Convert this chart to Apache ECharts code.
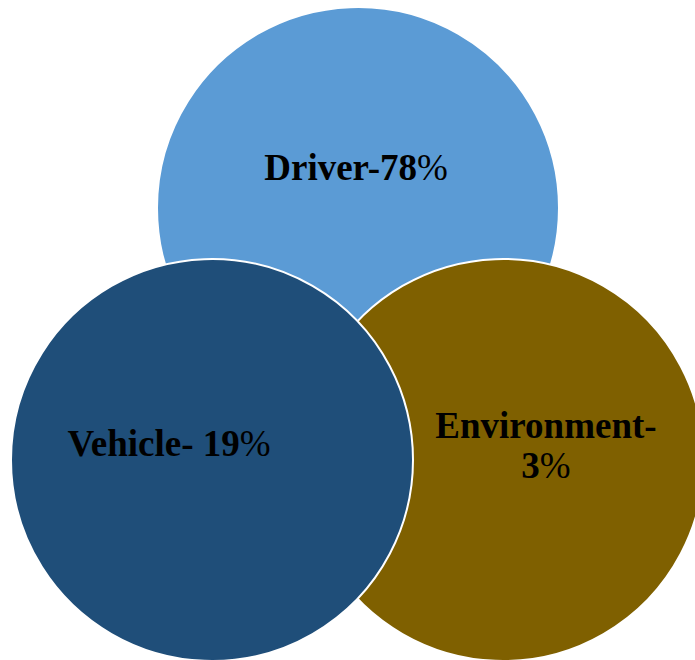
<!DOCTYPE html>
<html>
<head>
<meta charset="utf-8">
<script src="https://cdn.jsdelivr.net/npm/echarts@6/dist/echarts.min.js"></script>
<style>
  html, body { margin: 0; padding: 0; background: #fff; }
  #chart { width: 695px; height: 660px; }
</style>
</head>
<body>
<div id="chart"></div>
<script>
// Causes of road accidents (share of cases)
const categories = ['Driver', 'Environment', 'Vehicle'];
const shares = [78, 3, 19];
const separators = ['-', '-\n', '- '];

// Circle layout in chart units (one unit = circle radius)
const centers = [[1.79, 2.26], [2.515, 1.0], [1.06, 1.0]];
const radius = 1.005;
const labelOffsets = [[-0.01, 0.205], [0.215, 0.075], [-0.215, 0.085]];
const colors = ['#5B9BD5', '#7F6000', '#1F4E79'];

const chart = echarts.init(document.getElementById('chart'), null, { renderer: 'svg' });

const data = categories.map((c, i) => ({
  name: c,
  value: [centers[i][0], centers[i][1], shares[i]]
}));

chart.setOption({
  animation: false,
  grid: { left: 0, right: 0, top: 0, bottom: 0 },
  xAxis: { type: 'value', min: 0, max: 3.475, show: false },
  yAxis: { type: 'value', min: 0, max: 3.3, show: false },
  series: [{
    type: 'custom',
    coordinateSystem: 'cartesian2d',
    data: data,
    renderItem: function (params, api) {
      const i = params.dataIndex;
      const cx = api.value(0), cy = api.value(1), v = api.value(2);
      const c = api.coord([cx, cy]);
      const r = api.size([radius, 0])[0];
      const lp = api.coord([cx + labelOffsets[i][0], cy + labelOffsets[i][1]]);
      const sep = separators[i];
      const lines = sep.indexOf('\n') >= 0;
      const text = lines
        ? '{b|' + categories[i] + sep.replace('\n', '') + '}\n{b|' + v + '}{r|%}'
        : '{b|' + categories[i] + sep + v + '}{r|%}';
      return {
        type: 'group',
        children: [{
          type: 'circle',
          shape: { cx: c[0], cy: c[1], r: r },
          style: { fill: colors[i], stroke: '#ffffff', lineWidth: 2 }
        }, {
          type: 'text',
          x: lp[0],
          y: lp[1],
          style: {
            text: text,
            align: 'center',
            verticalAlign: 'middle',
            fill: '#000',
            rich: {
              b: { fontFamily: 'Liberation Serif', fontWeight: 'bold', fontSize: 37, lineHeight: 40, fill: '#000' },
              r: { fontFamily: 'Liberation Serif', fontWeight: 'normal', fontSize: 37, lineHeight: 40, fill: '#000' }
            }
          }
        }]
      };
    }
  }]
});
</script>
</body>
</html>
